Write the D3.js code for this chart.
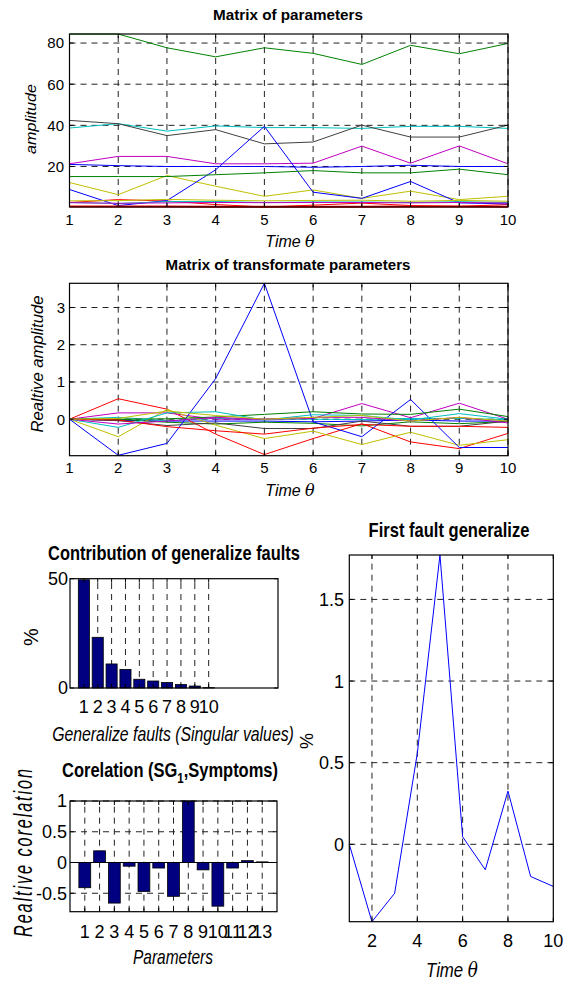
<!DOCTYPE html>
<html><head><meta charset="utf-8">
<script src="https://cdn.jsdelivr.net/npm/d3@7"></script>
<style>
body{margin:0;background:#fff}
svg{display:block}
text{font-family:"Liberation Sans",Arial,Helvetica,sans-serif;fill:#000}
</style>
</head><body>
<svg id="c" width="564" height="983"></svg>
<script>
// ---------- DATA ----------
const timeSteps = [1,2,3,4,5,6,7,8,9,10];

// Matrix of parameters (13 parameters over time)
const raw01 = [21, 20.4, 20, 20, 20, 19.6, 20, 20.6, 20, 20];
const raw02 = [84.4, 84.4, 77.7, 73.3, 77.7, 75, 69.6, 78.9, 74.8, 79.8];
const raw03 = [2.5, 3.9, 3.2, 1.5, 0.3, 1.2, 2.2, 1.0, 0.6, 1.5];
const raw04 = [38.7, 40.8, 37.2, 39.7, 38.9, 38.9, 38.5, 39.5, 39.5, 38.5];
const raw05 = [21.3, 24.9, 24.9, 21.3, 21.3, 21.6, 29.9, 21.6, 30, 21.3];
const raw06 = [12.2, 6.3, 15.6, 10.4, 5.5, 8.6, 4.5, 8, 3.9, 5.5];
const raw07 = [42.4, 40.8, 35, 37.9, 31, 31.9, 40.1, 34.3, 34.3, 40.1];
const raw08 = [8.8, 1.0, 3.4, 18.4, 39.5, 7.5, 4.5, 12.7, 2.3, 1.8];
const raw09 = [15.1, 15.1, 15.1, 16, 16.9, 18, 16.9, 16.9, 18.7, 16];
const raw10 = [0.6, 0.6, 0.5, 0.45, 0.4, 0.45, 0.45, 0.5, 0.5, 0.45];
const raw11 = [2.5, 2.0, 2.9, 3.0, 2.45, 2.75, 2.75, 2.45, 2.9, 2.5];
const raw12 = [2.4, 2.1, 2.3, 2.5, 2.4, 2.5, 2.5, 2.3, 2.5, 2.2];
const raw13 = [3.3, 3.4, 4.0, 3.6, 3.3, 3.5, 3.6, 3.1, 3.5, 3.1];

// Matrix of transformate parameters
const rel01 = [0, -0.03, -0.05, -0.05, -0.05, -0.07, -0.05, -0.02, -0.05, -0.05];
const rel02 = [0, 0, -0.08, -0.13, -0.08, -0.11, -0.18, -0.07, -0.12, -0.06];
const rel03 = [0, 0.55, 0.27, -0.4, -0.95, -0.52, -0.12, -0.61, -0.79, -0.38];
const rel04 = [0, 0.05, -0.04, 0.02, 0, 0, -0.01, 0.02, 0.02, -0.01];
const rel05 = [0, 0.17, 0.17, 0, 0, 0.02, 0.42, 0.04, 0.43, 0];
const rel06 = [0, -0.47, 0.26, -0.16, -0.52, -0.32, -0.68, -0.35, -0.7, -0.55];
const rel07 = [0, -0.04, -0.17, -0.1, -0.25, -0.25, -0.05, -0.19, -0.19, -0.05];
const rel08 = [0, -0.97, -0.65, 1.09, 3.65, -0.07, -0.47, 0.53, -0.76, -0.76];
const rel09 = [0, 0, 0.01, 0.06, 0.13, 0.2, 0.14, 0.13, 0.27, 0.07];
const rel10 = [0, -0.02, -0.2, -0.31, -0.4, -0.24, -0.14, -0.19, -0.19, -0.22];
const rel11 = [0, -0.22, 0.17, 0.2, -0.02, 0.12, 0.1, -0.02, 0.15, 0.0];
const rel12 = [0, -0.13, -0.05, 0.05, 0, 0.05, 0.05, -0.05, 0.05, -0.1];
const rel13 = [0, 0.02, 0.22, 0.1, 0, 0.05, 0.1, -0.05, 0.05, -0.05];

// Contribution of generalize faults (%)
const faultIndex = [1,2,3,4,5,6,7,8,9,10];
const contribution = [49.5, 23.2, 11, 8.5, 4, 3.2, 2.5, 1.6, 0.9, 0.15];

// Corelation (SG1, Symptoms)
const paramIndex = [1,2,3,4,5,6,7,8,9,10,11,12,13];
const corelation = [-0.41, 0.19, -0.66, -0.06, -0.47, -0.09, -0.55, 1.0, -0.12, -0.71, -0.09, 0.03, 0.01];

// First fault generalize
const firstFault = [0, -0.474, -0.30, 0.557, 1.772, 0.046, -0.156, 0.326, -0.197, -0.258];

// tick labels
const topYTicks = [20, 40, 60, 80];
const relYTicks = [0, 1, 2, 3];
const contribYTicks = [0, 50];
const corYTicks = [-0.5, 0, 0.5, 1];
const ffYTicks = [0, 0.5, 1, 1.5];
const ffXTicks = [2, 4, 6, 8, 10];

const lineColors = ["#0000ff","#008000","#ff0000","#00bfbf","#bf00bf","#bfbf00","#404040"];

const rawSeries = [raw01,raw02,raw03,raw04,raw05,raw06,raw07,raw08,raw09,raw10,raw11,raw12,raw13];
const relSeries = [rel01,rel02,rel03,rel04,rel05,rel06,rel07,rel08,rel09,rel10,rel11,rel12,rel13];

// ---------- DRAWING ----------
const svg = d3.select("#c");

function label(str, x, y, o) {
  o = o || {};
  const t = svg.append("text")
    .attr("font-size", o.size || 14)
    .attr("font-weight", o.weight || "normal")
    .attr("font-style", o.style || "normal")
    .attr("text-anchor", o.anchor || "middle");
  if (o.spacing) t.attr("letter-spacing", o.spacing);
  if (typeof str === "function") str(t); else t.text(str);
  let s = 1;
  if (o.width) { const w = t.node().getComputedTextLength(); if (w > 0) s = o.width / w; }
  t.attr("transform", `translate(${x},${y}) rotate(${o.rot || 0}) scale(${s},1)`);
  return t;
}

function gridLines(g, xs, ys, xVals, yVals) {
  const [x0, x1] = xs.range(), [y0, y1] = ys.range();
  g.selectAll(null).data(xVals).enter().append("line")
    .attr("x1", d => xs(d)).attr("x2", d => xs(d)).attr("y1", y0).attr("y2", y1)
    .attr("stroke", "#222").attr("stroke-width", 1).attr("stroke-dasharray", "6,5");
  g.selectAll(null).data(yVals).enter().append("line")
    .attr("y1", d => ys(d)).attr("y2", d => ys(d)).attr("x1", x0).attr("x2", x1)
    .attr("stroke", "#222").attr("stroke-width", 1).attr("stroke-dasharray", "6,5");
}

function box(g, xs, ys, xT, yT) {
  const [x0, x1] = xs.range(), [y0, y1] = ys.range();
  const tl = 4;
  g.selectAll(null).data(xT).enter().append("path")
    .attr("d", d => `M${xs(d)},${y0}v${-tl}M${xs(d)},${y1}v${tl}`)
    .attr("stroke", "#000").attr("stroke-width", 1);
  g.selectAll(null).data(yT).enter().append("path")
    .attr("d", d => `M${x0},${ys(d)}h${tl}M${x1},${ys(d)}h${-tl}`)
    .attr("stroke", "#000").attr("stroke-width", 1);
  g.append("rect").attr("x", x0).attr("y", y1).attr("width", x1 - x0).attr("height", y0 - y1)
    .attr("fill", "none").attr("stroke", "#000").attr("stroke-width", 1.2);
}

function tickLabels(xs, ys, xT, yT, o) {
  xT.forEach(d => label(o.xfmt ? o.xfmt(d) : String(d), xs(d), o.xBase, {size: o.size}));
  yT.forEach(d => label(o.yfmt ? o.yfmt(d) : String(d), o.yRight, ys(d) + o.size * 0.36, {size: o.size, anchor: "end"}));
}

// ---- Panel 1: Matrix of parameters ----
{
  const g = svg.append("g");
  const x = d3.scaleLinear().domain([1, 10]).range([69.5, 508]);
  const y = d3.scaleLinear().domain([0.3, 84.4]).range([207, 34]);
  gridLines(g, x, y, timeSteps, topYTicks);
  const line = d3.line().x((d, i) => x(timeSteps[i])).y(d => y(d));
  g.append("clipPath").attr("id", "cp1").append("rect")
    .attr("x", 69.5).attr("y", 33).attr("width", 439).attr("height", 175);
  rawSeries.forEach((s, k) => {
    g.append("path").attr("d", line(s)).attr("fill", "none")
      .attr("stroke", lineColors[k % 7]).attr("stroke-width", k === 9 ? 2 : 1)
      .attr("clip-path", "url(#cp1)");
  });
  box(g, x, y, timeSteps, topYTicks);
  tickLabels(x, y, timeSteps, topYTicks, {size: 15, xBase: 225, yRight: 64});
  label("Matrix of parameters", 288, 20, {size: 14, weight: "bold", width: 150});
  label(t => { t.append("tspan").text("Time "); t.append("tspan").attr("font-family", "DejaVu Serif, serif").text("θ"); },
        290, 247, {size: 16, style: "italic"});
  label("amplitude", 36, 119, {size: 15, style: "italic", rot: -90, width: 70});
}

// ---- Panel 2: Matrix of transformate parameters ----
{
  const g = svg.append("g");
  const x = d3.scaleLinear().domain([1, 10]).range([69.5, 508]);
  const y = d3.scaleLinear().domain([-0.98, 3.65]).range([455.7, 283.3]);
  gridLines(g, x, y, timeSteps, relYTicks);
  const line = d3.line().x((d, i) => x(timeSteps[i])).y(d => y(d));
  relSeries.forEach((s, k) => {
    g.append("path").attr("d", line(s)).attr("fill", "none")
      .attr("stroke", lineColors[k % 7]).attr("stroke-width", 1);
  });
  box(g, x, y, timeSteps, relYTicks);
  tickLabels(x, y, timeSteps, relYTicks, {size: 15, xBase: 473, yRight: 65});
  label("Matrix of transformate parameters", 288, 270, {size: 14, weight: "bold", width: 245});
  label(t => { t.append("tspan").text("Time "); t.append("tspan").attr("font-family", "DejaVu Serif, serif").text("θ"); },
        290, 496, {size: 16, style: "italic"});
  label("Realtive amplitude", 43, 364, {size: 16, style: "italic", rot: -90, width: 137});
}

// ---- Panel 3: Contribution of generalize faults ----
{
  const g = svg.append("g");
  const x = d3.scaleLinear().domain([0, 15]).range([70, 278]);
  const y = d3.scaleLinear().domain([0, 50]).range([688, 578.7]);
  gridLines(g, x, y, faultIndex, []);
  g.selectAll(null).data(contribution).enter().append("rect")
    .attr("x", (d, i) => x(faultIndex[i] - 0.4))
    .attr("width", x(0.8) - x(0))
    .attr("y", d => y(d))
    .attr("height", d => y(0) - y(d))
    .attr("fill", "#000080").attr("stroke", "#000").attr("stroke-width", 0.8);
  box(g, x, y, faultIndex, contribYTicks);
  tickLabels(x, y, faultIndex, contribYTicks, {size: 18, xBase: 713, yRight: 68});
  label("Contribution of generalize faults", 174, 560, {size: 20, weight: "bold", width: 252});
  label("Generalize faults (Singular values)", 173, 741, {size: 20, style: "italic", width: 242});
  label("%", 38, 637, {size: 20, rot: -90});
}

// ---- Panel 4: Corelation ----
{
  const g = svg.append("g");
  const x = d3.scaleLinear().domain([0, 14]).range([70, 277]);
  const y = d3.scaleLinear().domain([-0.8, 1]).range([911.7, 801]);
  gridLines(g, x, y, paramIndex, corYTicks);
  g.selectAll(null).data(corelation).enter().append("rect")
    .attr("x", (d, i) => x(paramIndex[i] - 0.4))
    .attr("width", x(0.8) - x(0))
    .attr("y", d => y(Math.max(0, d)))
    .attr("height", d => Math.abs(y(0) - y(d)))
    .attr("fill", "#000080").attr("stroke", "#000").attr("stroke-width", 0.8);
  g.append("line").attr("x1", 70).attr("x2", 277).attr("y1", y(0)).attr("y2", y(0))
    .attr("stroke", "#000").attr("stroke-width", 1);
  box(g, x, y, paramIndex, corYTicks);
  tickLabels(x, y, paramIndex, corYTicks, {size: 18, xBase: 938, yRight: 67});
  label(t => {
    t.append("tspan").text("Corelation (SG");
    t.append("tspan").attr("font-size", 14).attr("dy", 6).text("1");
    t.append("tspan").attr("dy", -6).text(",Symptoms)");
  }, 170, 777, {size: 20, weight: "bold", width: 216});
  label("Parameters", 173, 964, {size: 20, style: "italic", width: 80});
  label("Realtive corelation", 32, 852, {size: 25, style: "italic", rot: -90, width: 170, spacing: 3});
}

// ---- Panel 5: First fault generalize ----
{
  const g = svg.append("g");
  const x = d3.scaleLinear().domain([1, 10]).range([349.3, 553.3]);
  const y = d3.scaleLinear().domain([-0.474, 1.772]).range([921.7, 555]);
  gridLines(g, x, y, [2, 4, 6, 8], ffYTicks);
  const line = d3.line().x((d, i) => x(timeSteps[i])).y(d => y(d));
  g.append("path").attr("d", line(firstFault)).attr("fill", "none")
    .attr("stroke", "#0000ff").attr("stroke-width", 1);
  box(g, x, y, ffXTicks, ffYTicks);
  tickLabels(x, y, ffXTicks, ffYTicks, {size: 18, xBase: 947, yRight: 344});
  label("First fault generalize", 449, 537, {size: 20, weight: "bold", width: 161});
  label(t => { t.append("tspan").text("Time "); t.append("tspan").attr("font-family", "DejaVu Serif, serif").text("θ"); },
        452, 977, {size: 20, style: "italic", width: 52});
  label("%", 313, 741, {size: 18, rot: -90});
}
</script>
</body></html>
